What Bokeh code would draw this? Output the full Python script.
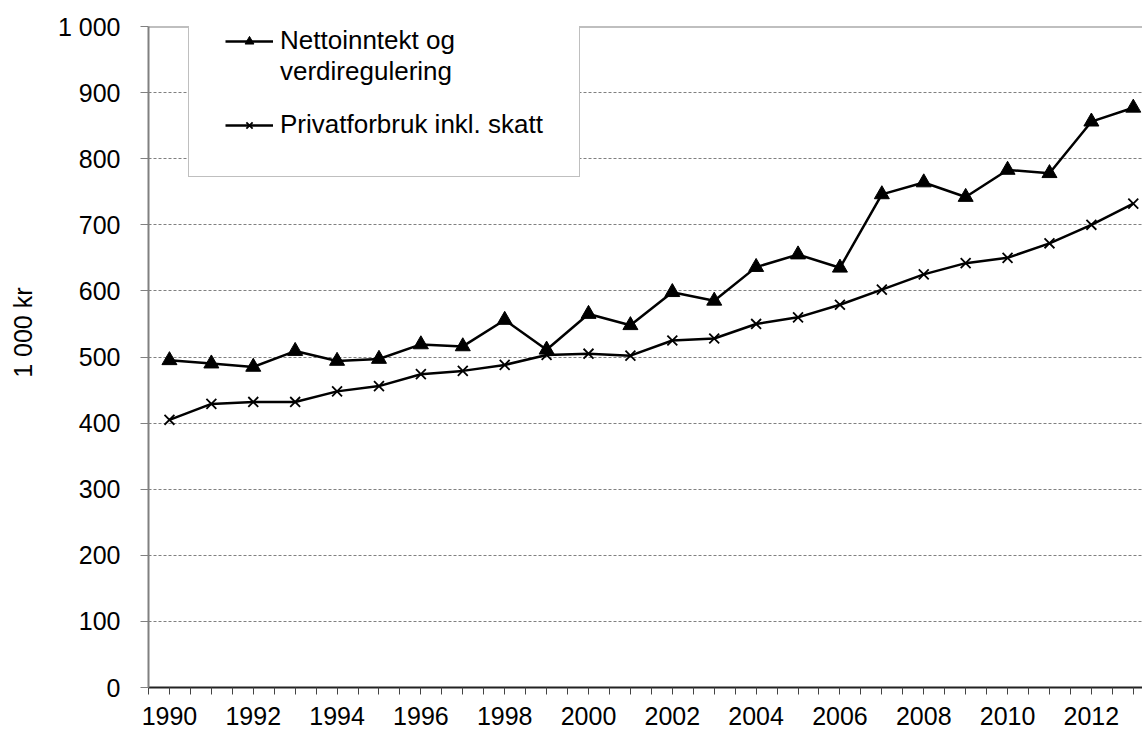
from bokeh.plotting import figure
from bokeh.models import FixedTicker, Legend, LegendItem, Span
from bokeh.embed import file_html
from bokeh.resources import INLINE

# ---- data ----
years = list(range(1990, 2014))
netto = [495, 490, 485, 509, 494, 497, 519, 516, 556, 511, 565, 548,
         598, 585, 636, 655, 635, 746, 764, 742, 783, 778, 856, 877]
privat = [405, 429, 432, 432, 448, 456, 474, 479, 488, 503, 505, 502,
          525, 528, 550, 560, 579, 602, 625, 642, 650, 672, 700, 732]
y_ticks = [0, 100, 200, 300, 400, 500, 600, 700, 800, 900, 1000]
y_tick_labels = ["0", "100", "200", "300", "400", "500", "600", "700", "800", "900", "1 000"]
x_label_years = years[::2]
series_names = ["Nettoinntekt og", "verdiregulering", "Privatforbruk inkl. skatt"]
y_title = "1 000 kr"

FONT = "Liberation Sans"
GRAY = "#808080"
NBSP = "\u00a0"

p = figure(width=1142, height=731,
           x_range=(years[0] - 0.5, years[-1] + 0.22),
           y_range=(y_ticks[0], y_ticks[-1]),
           output_backend="svg", toolbar_location=None,
           min_border_left=148, min_border_right=0,
           min_border_top=26, min_border_bottom=44)
p.outline_line_color = None
p.background_fill_color = "white"
p.border_fill_color = "white"

# grid
p.xgrid.visible = False
p.ygrid.ticker = FixedTicker(ticks=y_ticks)
p.ygrid.grid_line_color = GRAY
p.ygrid.grid_line_dash = "3 2"
p.ygrid.grid_line_width = 1

# top border line of the plot area
p.add_layout(Span(location=y_ticks[-1], dimension="width",
                  line_color=GRAY, line_width=2))

# series
l1 = p.line(years, netto, line_color="black", line_width=2.5)
s1 = p.scatter(years, netto, marker="triangle", size=15,
               fill_color="black", line_color="black")
l2 = p.line(years, privat, line_color="black", line_width=2.5)
s2 = p.scatter(years, privat, marker="x", size=14,
               line_color="black", line_width=1.8)
ghost = p.line(years, netto, line_alpha=0)

# y axis
ya = p.yaxis[0]
ya.ticker = FixedTicker(ticks=y_ticks)
ya.major_label_overrides = {t: s for t, s in zip(y_ticks, y_tick_labels)}
ya.major_tick_out = 8
ya.major_tick_in = 0
ya.minor_tick_out = 0
ya.minor_tick_in = 0
ya.major_tick_line_color = GRAY
ya.axis_line_color = GRAY
ya.axis_line_width = 2
ya.major_label_standoff = 20
ya.major_label_text_font = FONT
ya.major_label_text_font_size = "25px"
ya.major_label_text_color = "black"
ya.axis_label = NBSP * 7 + y_title
ya.axis_label_standoff = 18
ya.axis_label_text_font = FONT
ya.axis_label_text_font_size = "25px"
ya.axis_label_text_font_style = "normal"
ya.axis_label_text_color = "black"

# x axis
xa = p.xaxis[0]
minor = sorted([y - 0.5 for y in years] + [y for y in years if y not in x_label_years])
xa.ticker = FixedTicker(ticks=x_label_years, minor_ticks=minor)
xa.major_tick_out = 7
xa.major_tick_in = 0
xa.minor_tick_out = 7
xa.minor_tick_in = 0
xa.major_tick_line_color = "#444444"
xa.minor_tick_line_color = "#444444"
xa.axis_line_color = "#222222"
xa.axis_line_width = 2
xa.major_label_standoff = 12
xa.major_label_text_font = FONT
xa.major_label_text_font_size = "25px"
xa.major_label_text_color = "black"

# legend
items = [
    LegendItem(label=series_names[0], renderers=[l1, s1]),
    LegendItem(label=series_names[1], renderers=[ghost]),
    LegendItem(label=" ", renderers=[ghost]),
    LegendItem(label=series_names[2], renderers=[l2, s2]),
]
legend = Legend(items=items, location=(40, 510), padding=36, spacing=0,
                margin=0, glyph_width=48, glyph_height=22, label_height=20,
                label_standoff=7, label_text_font=FONT,
                label_text_font_size="26px", label_text_color="black",
                border_line_color=GRAY, border_line_width=1.5,
                background_fill_color="white", background_fill_alpha=1)
p.add_layout(legend)

open("out.html", "w").write(file_html(p, INLINE))
